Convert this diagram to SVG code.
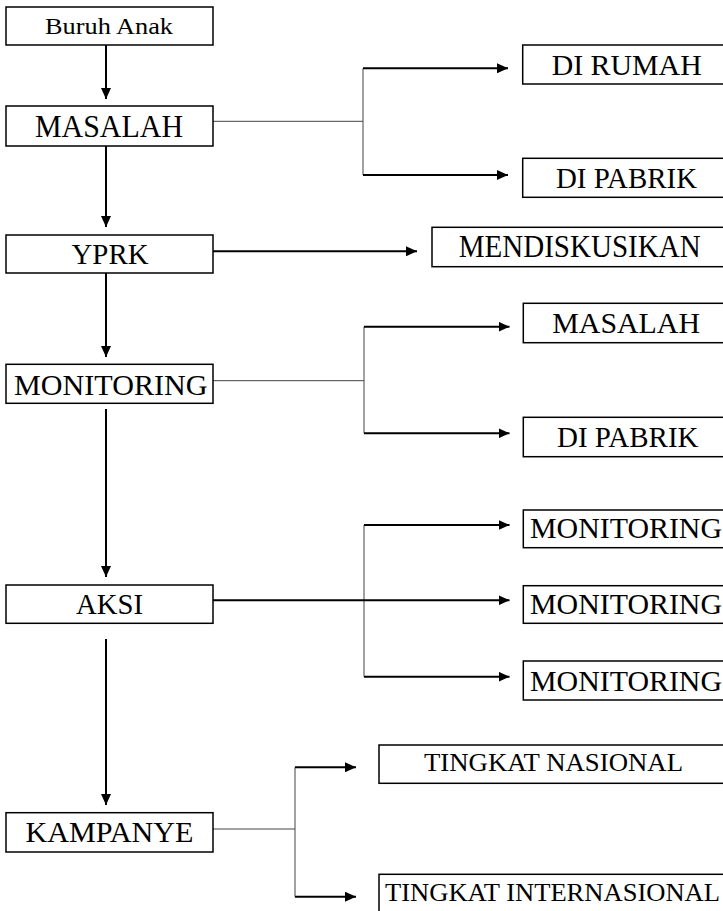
<svg xmlns="http://www.w3.org/2000/svg" width="723" height="911" viewBox="0 0 723 911">
<style>
.box{fill:#fff;stroke:#000;stroke-width:1.5}
.t{font-family:"Liberation Serif","Times New Roman",serif;font-size:30px;fill:#000}
.thick{stroke:#000;stroke-width:2;fill:none}
.thin{stroke:#444;stroke-width:1;fill:none}
</style>
<defs>
<marker id="ah" markerUnits="userSpaceOnUse" markerWidth="11" markerHeight="10" refX="11" refY="5" orient="auto" viewBox="0 0 11 10">
<path d="M0,0 L11,5 L0,10 z" fill="#000"/>
</marker>
</defs>
<rect width="723" height="911" fill="#fff"/>
<g id="connectors">
<line class="thick" x1="106" y1="45" x2="106" y2="99" marker-end="url(#ah)"/>
<line class="thick" x1="106" y1="146" x2="106" y2="227" marker-end="url(#ah)"/>
<line class="thick" x1="106" y1="273" x2="106" y2="357" marker-end="url(#ah)"/>
<line class="thick" x1="106" y1="409" x2="106" y2="577" marker-end="url(#ah)"/>
<line class="thick" x1="106" y1="639" x2="106" y2="805" marker-end="url(#ah)"/>
<line class="thick" x1="213" y1="251.3" x2="417" y2="251.3" marker-end="url(#ah)"/>
<line class="thin" x1="213" y1="121.3" x2="363" y2="121.3"/>
<line class="thin" x1="363" y1="68.3" x2="363" y2="175"/>
<line class="thick" x1="363" y1="68.3" x2="508" y2="68.3" marker-end="url(#ah)"/>
<line class="thick" x1="363" y1="175" x2="508" y2="175" marker-end="url(#ah)"/>
<line class="thin" x1="213" y1="380.7" x2="364" y2="380.7"/>
<line class="thin" x1="364" y1="326.7" x2="364" y2="433.3"/>
<line class="thick" x1="364" y1="326.7" x2="509.5" y2="326.7" marker-end="url(#ah)"/>
<line class="thick" x1="364" y1="433.3" x2="509.5" y2="433.3" marker-end="url(#ah)"/>
<line class="thin" x1="364" y1="525" x2="364" y2="676.7"/>
<line class="thick" x1="364" y1="525" x2="509.5" y2="525" marker-end="url(#ah)"/>
<line class="thick" x1="213" y1="600.3" x2="509.5" y2="600.3" marker-end="url(#ah)"/>
<line class="thick" x1="364" y1="676.7" x2="509.5" y2="676.7" marker-end="url(#ah)"/>
<line class="thin" x1="213" y1="829" x2="295" y2="829"/>
<line class="thin" x1="295" y1="767.3" x2="295" y2="896.7"/>
<line class="thick" x1="295" y1="767.3" x2="356" y2="767.3" marker-end="url(#ah)"/>
<line class="thick" x1="295" y1="896.7" x2="356" y2="896.7" marker-end="url(#ah)"/>
</g>
<g id="buruh-anak"><rect class="box" x="6" y="7" width="207" height="38"/><text class="t" x="45" y="34.3" style="font-size:23px" textLength="128" lengthAdjust="spacingAndGlyphs">Buruh Anak</text></g>
<g id="masalah"><rect class="box" x="6" y="106" width="207" height="40"/><text class="t" x="35" y="137" style="font-size:32px" textLength="148" lengthAdjust="spacingAndGlyphs">MASALAH</text></g>
<g id="yprk"><rect class="box" x="6" y="235" width="207" height="38"/><text class="t" x="71.5" y="264" textLength="77" lengthAdjust="spacingAndGlyphs">YPRK</text></g>
<g id="monitoring"><rect class="box" x="6" y="364.3" width="207" height="39"/><text class="t" x="14" y="395" style="font-size:29px" textLength="193.5" lengthAdjust="spacingAndGlyphs">MONITORING</text></g>
<g id="aksi"><rect class="box" x="6" y="585" width="207" height="38.3"/><text class="t" x="76" y="614" style="font-size:29px" textLength="67" lengthAdjust="spacingAndGlyphs">AKSI</text></g>
<g id="kampanye"><rect class="box" x="6" y="812.7" width="207" height="39.3"/><text class="t" x="25.4" y="841.7" style="font-size:29px" textLength="168" lengthAdjust="spacingAndGlyphs">KAMPANYE</text></g>
<g id="di-rumah"><rect class="box" x="522.7" y="45" width="210" height="39"/><text class="t" x="551.7" y="75" textLength="150" lengthAdjust="spacingAndGlyphs">DI RUMAH</text></g>
<g id="di-pabrik-1"><rect class="box" x="522.7" y="158.3" width="210" height="39"/><text class="t" x="556" y="188.3" textLength="141" lengthAdjust="spacingAndGlyphs">DI PABRIK</text></g>
<g id="mendiskusikan"><rect class="box" x="432" y="227.3" width="300" height="39.4"/><text class="t" x="458.7" y="257.3" style="font-size:31px" textLength="242" lengthAdjust="spacingAndGlyphs">MENDISKUSIKAN</text></g>
<g id="masalah-2"><rect class="box" x="523.3" y="303.3" width="210" height="39.4"/><text class="t" x="552.3" y="332.7" textLength="147.7" lengthAdjust="spacingAndGlyphs">MASALAH</text></g>
<g id="di-pabrik-2"><rect class="box" x="523.3" y="417.3" width="210" height="39.4"/><text class="t" x="557" y="446.7" textLength="141.5" lengthAdjust="spacingAndGlyphs">DI PABRIK</text></g>
<g id="monitoring-a"><rect class="box" x="523.3" y="510" width="210" height="37.7"/><text class="t" x="530" y="538.3" style="font-size:29px" textLength="192" lengthAdjust="spacingAndGlyphs">MONITORING</text></g>
<g id="monitoring-b"><rect class="box" x="523.3" y="585.7" width="210" height="37.6"/><text class="t" x="530" y="614" style="font-size:29px" textLength="192" lengthAdjust="spacingAndGlyphs">MONITORING</text></g>
<g id="monitoring-c"><rect class="box" x="523.3" y="661" width="210" height="39"/><text class="t" x="530" y="690.7" style="font-size:29px" textLength="192" lengthAdjust="spacingAndGlyphs">MONITORING</text></g>
<g id="tingkat-nasional"><rect class="box" x="379" y="745" width="360" height="38.3"/><text class="t" x="424" y="770.7" style="font-size:26px" textLength="259" lengthAdjust="spacingAndGlyphs">TINGKAT NASIONAL</text></g>
<g id="tingkat-internasional"><rect class="box" x="379" y="874.3" width="360" height="45"/><text class="t" x="385" y="900.5" style="font-size:26px" textLength="335" lengthAdjust="spacingAndGlyphs">TINGKAT INTERNASIONAL</text></g>
</svg>
